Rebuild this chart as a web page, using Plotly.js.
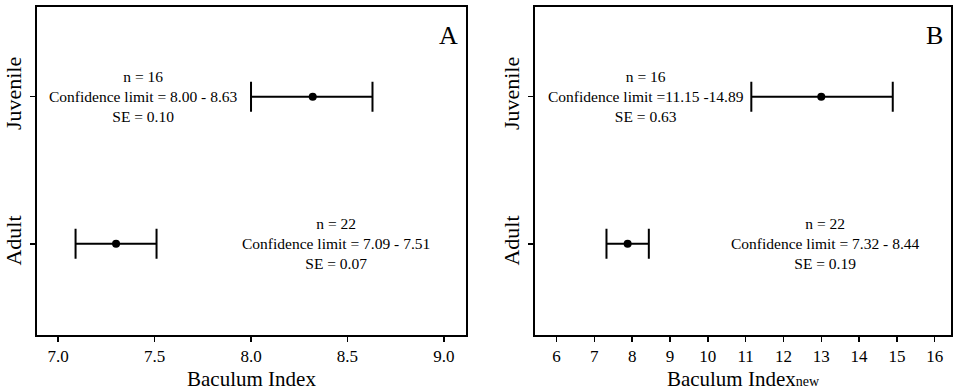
<!DOCTYPE html>
<html><head><meta charset="utf-8">
<script src="https://cdn.plot.ly/plotly-3.0.1.min.js"></script>
<style>html,body{margin:0;padding:0;background:#fff}#chart{width:953px;height:391px}</style>
</head><body><div id="chart"></div>
<script>
// Data
var groups = ["Adult", "Juvenile"];
var meanA = [7.30, 8.32];
var ciLowA = [7.09, 8.00];
var ciHighA = [7.51, 8.63];
var nA = [22, 16];
var seA = ["0.07", "0.10"];
var ciTextA = ["Confidence limit = 7.09 - 7.51", "Confidence limit = 8.00 - 8.63"];
var labelXA = [8.44, 7.44];

var meanB = [7.88, 13.0];
var ciLowB = [7.32, 11.15];
var ciHighB = [8.44, 14.89];
var nB = [22, 16];
var seB = ["0.19", "0.63"];
var ciTextB = ["Confidence limit = 7.32 - 8.44", "Confidence limit =11.15 -14.89"];
var labelXB = [13.12, 8.37];

var xTicksA = [7.0, 7.5, 8.0, 8.5, 9.0];
var xTickTextA = ["7.0", "7.5", "8.0", "8.5", "9.0"];
var xTicksB = [6,7,8,9,10,11,12,13,14,15,16];

var yPos = [1, 2];

function errs(mean, lo, hi){
  return {plus: mean.map(function(m,i){return hi[i]-m;}), minus: mean.map(function(m,i){return m-lo[i];})};
}
var eA = errs(meanA, ciLowA, ciHighA);
var eB = errs(meanB, ciLowB, ciHighB);

var font = "Liberation Serif";

var traces = [
  {x: meanA, y: yPos, xaxis: 'x', yaxis: 'y', type: 'scatter', mode: 'markers',
   marker: {color: 'black', size: 8},
   error_x: {type: 'data', array: eA.plus, arrayminus: eA.minus, color: 'black', thickness: 2, width: 15},
   showlegend: false, hoverinfo: 'skip'},
  {x: meanB, y: yPos, xaxis: 'x2', yaxis: 'y2', type: 'scatter', mode: 'markers',
   marker: {color: 'black', size: 8},
   error_x: {type: 'data', array: eB.plus, arrayminus: eB.minus, color: 'black', thickness: 2, width: 15},
   showlegend: false, hoverinfo: 'skip'}
];

var annotations = [];
function addLabels(xref, yref, labelX, n, ciText, se){
  for (var i = 0; i < yPos.length; i++) {
    annotations.push({
      x: labelX[i], y: yPos[i], xref: xref, yref: yref, xanchor: 'center', yanchor: 'middle',
      text: 'n = ' + n[i] + '<br>' + ciText[i] + '<br>SE = ' + se[i],
      showarrow: false, align: 'center', font: {family: font, size: 15.5, color: 'black'}
    });
  }
}
addLabels('x', 'y', labelXA, nA, ciTextA, seA);
addLabels('x2', 'y2', labelXB, nB, ciTextB, seB);
annotations.push({x: 0.985, y: 0.965, xref: 'x domain', yref: 'y domain', xanchor: 'right', yanchor: 'top',
  text: 'A', showarrow: false, font: {family: font, size: 26, color: 'black'}});
annotations.push({x: 0.985, y: 0.965, xref: 'x2 domain', yref: 'y2 domain', xanchor: 'right', yanchor: 'top',
  text: 'B', showarrow: false, font: {family: font, size: 26, color: 'black'}});

function xaxis(domain, range, tv, tt, title){
  var a = {domain: domain, range: range, tickmode: 'array', tickvals: tv,
    showline: true, mirror: true, linewidth: 2, linecolor: 'black', showgrid: false, zeroline: false,
    ticks: 'outside', ticklen: 5, tickwidth: 1.5, tickcolor: 'black',
    tickfont: {family: font, size: 17, color: 'black'},
    title: {text: title, font: {family: font, size: 21, color: 'black'}, standoff: 6}};
  if (tt) a.ticktext = tt;
  return a;
}
function yaxis(anchor){
  return {domain: [0.1432, 0.982], range: [0.38, 2.61], anchor: anchor, tickmode: 'array', tickvals: yPos, ticktext: groups,
    tickangle: -90, showline: true, mirror: true, linewidth: 2, linecolor: 'black', showgrid: false, zeroline: false,
    ticks: 'outside', ticklen: 5, tickwidth: 1.5, tickcolor: 'black',
    tickfont: {family: font, size: 22, color: 'black'}};
}

var layout = {
  width: 953, height: 391,
  margin: {l: 0, r: 0, t: 0, b: 0},
  font: {family: font, color: 'black'},
  paper_bgcolor: 'white', plot_bgcolor: 'white',
  xaxis: xaxis([37/953, 466/953], [6.89, 9.115], xTicksA, xTickTextA, 'Baculum Index'),
  yaxis: yaxis('x'),
  xaxis2: xaxis([535/953, 951/953], [5.43, 16.43], xTicksB, null, 'Baculum Index<span style="font-size:14px">new</span>'),
  yaxis2: yaxis('x2'),
  annotations: annotations
};
layout.xaxis.anchor = 'y';
layout.xaxis2.anchor = 'y2';

Plotly.newPlot('chart', traces, layout, {displayModeBar: false, staticPlot: true});
</script></body></html>
